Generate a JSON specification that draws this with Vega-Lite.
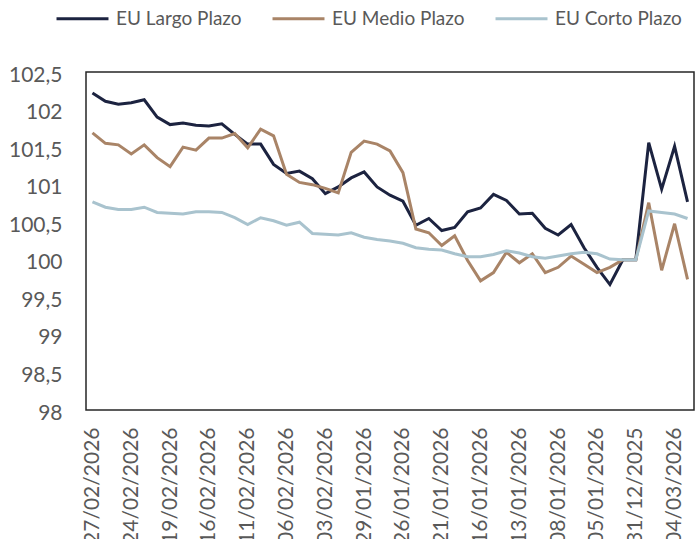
{
  "$schema": "https://vega.github.io/schema/vega-lite/v6.json",
  "width": 608,
  "height": 338,
  "autosize": {"type": "none"},
  "padding": {"left": 86, "top": 72, "right": 2, "bottom": 129},
  "background": "white",
  "data": {"values": [
    {"fecha": "27/02/2026", "EU Largo Plazo": 102.22, "EU Medio Plazo": 101.69, "EU Corto Plazo": 100.77},
    {"fecha": "26/02/2026", "EU Largo Plazo": 102.11, "EU Medio Plazo": 101.55, "EU Corto Plazo": 100.70},
    {"fecha": "25/02/2026", "EU Largo Plazo": 102.07, "EU Medio Plazo": 101.53, "EU Corto Plazo": 100.67},
    {"fecha": "24/02/2026", "EU Largo Plazo": 102.09, "EU Medio Plazo": 101.41, "EU Corto Plazo": 100.67},
    {"fecha": "23/02/2026", "EU Largo Plazo": 102.13, "EU Medio Plazo": 101.53, "EU Corto Plazo": 100.70},
    {"fecha": "20/02/2026", "EU Largo Plazo": 101.90, "EU Medio Plazo": 101.36, "EU Corto Plazo": 100.63},
    {"fecha": "19/02/2026", "EU Largo Plazo": 101.80, "EU Medio Plazo": 101.24, "EU Corto Plazo": 100.62},
    {"fecha": "18/02/2026", "EU Largo Plazo": 101.82, "EU Medio Plazo": 101.50, "EU Corto Plazo": 100.61},
    {"fecha": "17/02/2026", "EU Largo Plazo": 101.79, "EU Medio Plazo": 101.46, "EU Corto Plazo": 100.64},
    {"fecha": "16/02/2026", "EU Largo Plazo": 101.78, "EU Medio Plazo": 101.62, "EU Corto Plazo": 100.64},
    {"fecha": "13/02/2026", "EU Largo Plazo": 101.81, "EU Medio Plazo": 101.62, "EU Corto Plazo": 100.63},
    {"fecha": "12/02/2026", "EU Largo Plazo": 101.67, "EU Medio Plazo": 101.68, "EU Corto Plazo": 100.56},
    {"fecha": "11/02/2026", "EU Largo Plazo": 101.54, "EU Medio Plazo": 101.49, "EU Corto Plazo": 100.47},
    {"fecha": "10/02/2026", "EU Largo Plazo": 101.54, "EU Medio Plazo": 101.74, "EU Corto Plazo": 100.56},
    {"fecha": "09/02/2026", "EU Largo Plazo": 101.27, "EU Medio Plazo": 101.65, "EU Corto Plazo": 100.52},
    {"fecha": "06/02/2026", "EU Largo Plazo": 101.15, "EU Medio Plazo": 101.14, "EU Corto Plazo": 100.46},
    {"fecha": "05/02/2026", "EU Largo Plazo": 101.18, "EU Medio Plazo": 101.03, "EU Corto Plazo": 100.50},
    {"fecha": "04/02/2026", "EU Largo Plazo": 101.08, "EU Medio Plazo": 101.00, "EU Corto Plazo": 100.35},
    {"fecha": "03/02/2026", "EU Largo Plazo": 100.88, "EU Medio Plazo": 100.95, "EU Corto Plazo": 100.34},
    {"fecha": "02/02/2026", "EU Largo Plazo": 100.97, "EU Medio Plazo": 100.89, "EU Corto Plazo": 100.33},
    {"fecha": "30/01/2026", "EU Largo Plazo": 101.09, "EU Medio Plazo": 101.43, "EU Corto Plazo": 100.36},
    {"fecha": "29/01/2026", "EU Largo Plazo": 101.17, "EU Medio Plazo": 101.58, "EU Corto Plazo": 100.30},
    {"fecha": "28/01/2026", "EU Largo Plazo": 100.97, "EU Medio Plazo": 101.54, "EU Corto Plazo": 100.27},
    {"fecha": "27/01/2026", "EU Largo Plazo": 100.86, "EU Medio Plazo": 101.45, "EU Corto Plazo": 100.25},
    {"fecha": "26/01/2026", "EU Largo Plazo": 100.78, "EU Medio Plazo": 101.16, "EU Corto Plazo": 100.22},
    {"fecha": "23/01/2026", "EU Largo Plazo": 100.46, "EU Medio Plazo": 100.41, "EU Corto Plazo": 100.16},
    {"fecha": "22/01/2026", "EU Largo Plazo": 100.55, "EU Medio Plazo": 100.36, "EU Corto Plazo": 100.14},
    {"fecha": "21/01/2026", "EU Largo Plazo": 100.39, "EU Medio Plazo": 100.19, "EU Corto Plazo": 100.13},
    {"fecha": "20/01/2026", "EU Largo Plazo": 100.43, "EU Medio Plazo": 100.32, "EU Corto Plazo": 100.08},
    {"fecha": "19/01/2026", "EU Largo Plazo": 100.64, "EU Medio Plazo": 99.99, "EU Corto Plazo": 100.04},
    {"fecha": "16/01/2026", "EU Largo Plazo": 100.69, "EU Medio Plazo": 99.72, "EU Corto Plazo": 100.04},
    {"fecha": "15/01/2026", "EU Largo Plazo": 100.87, "EU Medio Plazo": 99.83, "EU Corto Plazo": 100.07},
    {"fecha": "14/01/2026", "EU Largo Plazo": 100.79, "EU Medio Plazo": 100.10, "EU Corto Plazo": 100.12},
    {"fecha": "13/01/2026", "EU Largo Plazo": 100.61, "EU Medio Plazo": 99.96, "EU Corto Plazo": 100.09},
    {"fecha": "12/01/2026", "EU Largo Plazo": 100.62, "EU Medio Plazo": 100.08, "EU Corto Plazo": 100.04},
    {"fecha": "09/01/2026", "EU Largo Plazo": 100.42, "EU Medio Plazo": 99.83, "EU Corto Plazo": 100.02},
    {"fecha": "08/01/2026", "EU Largo Plazo": 100.33, "EU Medio Plazo": 99.90, "EU Corto Plazo": 100.05},
    {"fecha": "07/01/2026", "EU Largo Plazo": 100.47, "EU Medio Plazo": 100.05, "EU Corto Plazo": 100.08},
    {"fecha": "06/01/2026", "EU Largo Plazo": 100.16, "EU Medio Plazo": 99.94, "EU Corto Plazo": 100.10},
    {"fecha": "05/01/2026", "EU Largo Plazo": 99.90, "EU Medio Plazo": 99.83, "EU Corto Plazo": 100.08},
    {"fecha": "02/01/2026", "EU Largo Plazo": 99.67, "EU Medio Plazo": 99.90, "EU Corto Plazo": 100.01},
    {"fecha": "01/01/2026", "EU Largo Plazo": 100.00, "EU Medio Plazo": 100.00, "EU Corto Plazo": 100.00},
    {"fecha": "31/12/2025", "EU Largo Plazo": 100.00, "EU Medio Plazo": 100.00, "EU Corto Plazo": 100.00},
    {"fecha": "02/03/2026", "EU Largo Plazo": 101.56, "EU Medio Plazo": 100.76, "EU Corto Plazo": 100.65},
    {"fecha": "03/03/2026", "EU Largo Plazo": 100.94, "EU Medio Plazo": 99.86, "EU Corto Plazo": 100.63},
    {"fecha": "04/03/2026", "EU Largo Plazo": 101.51, "EU Medio Plazo": 100.48, "EU Corto Plazo": 100.61},
    {"fecha": "05/03/2026", "EU Largo Plazo": 100.77, "EU Medio Plazo": 99.74, "EU Corto Plazo": 100.55}
  ]},
  "transform": [{"fold": ["EU Largo Plazo", "EU Medio Plazo", "EU Corto Plazo"], "as": ["serie", "valor"]}],
  "mark": {"type": "line", "strokeWidth": 3, "strokeJoin": "miter"},
  "encoding": {
    "x": {
      "field": "fecha", "type": "nominal", "sort": null,
      "scale": {"type": "point", "padding": 0.5},
      "axis": {
        "title": null, "values": ["27/02/2026", "24/02/2026", "19/02/2026", "16/02/2026", "11/02/2026", "06/02/2026", "03/02/2026", "29/01/2026", "26/01/2026", "21/01/2026", "16/01/2026", "13/01/2026", "08/01/2026", "05/01/2026", "31/12/2025", "04/03/2026"],
        "labelAngle": -90, "labelAlign": "right", "labelBaseline": "middle",
        "labelPadding": 17, "ticks": false, "domain": false, "grid": false,
        "labelFontSize": 21, "labelColor": "#595959", "labelOverlap": false, "labelLimit": 300
      }
    },
    "y": {
      "field": "valor", "type": "quantitative",
      "scale": {"domain": [98, 102.5], "zero": false, "nice": false},
      "axis": {
        "title": null, "values": [98, 98.5, 99, 99.5, 100, 100.5, 101, 101.5, 102, 102.5],
        "labelExpr": "replace(toString(datum.value), '.', ',')",
        "ticks": false, "domain": false, "grid": false, "labelPadding": 24,
        "labelFontSize": 21, "labelColor": "#595959", "labelOffset": 3
      }
    },
    "color": {
      "field": "serie", "type": "nominal",
      "scale": {"domain": ["EU Largo Plazo", "EU Medio Plazo", "EU Corto Plazo"], "range": ["#1c2340", "#a98467", "#a9c3ce"]},
      "legend": {
        "title": null, "orient": "none", "direction": "horizontal",
        "legendX": -31, "legendY": -81,
        "symbolType": "stroke", "symbolSize": 2700, "symbolStrokeWidth": 3,
        "labelFontSize": 19, "labelColor": "#595959", "labelOffset": 6,
        "columnPadding": 24
      }
    }
  },
  "config": {
    "font": "Lato",
    "view": {"stroke": "#262626", "strokeWidth": 1.5}
  }
}
